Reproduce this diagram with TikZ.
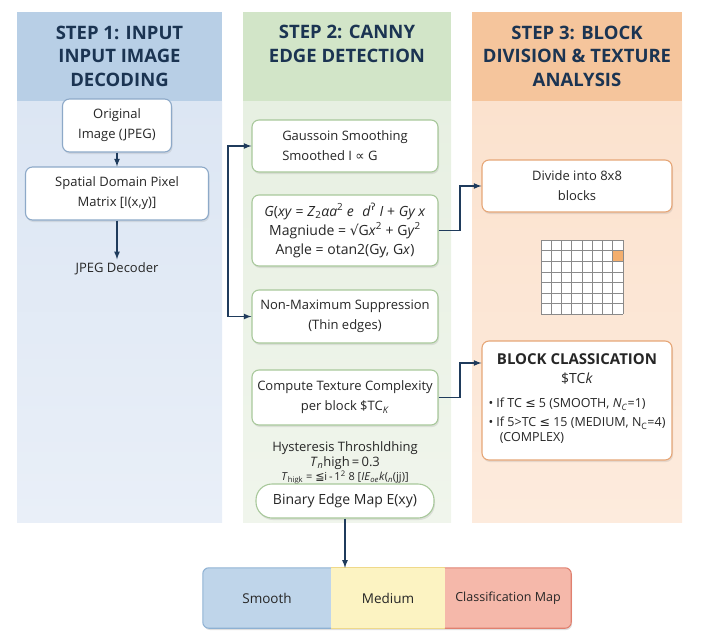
\documentclass[tikz,border=0pt]{standalone}
\usepackage{fontspec}
\setmainfont{Open Sans}
\newfontfamily\symfont{DejaVu Sans}
\newcommand{\sym}[1]{{\symfont #1}}
\usetikzlibrary{positioning, shadows}

\definecolor{head-blue}{HTML}{B8CFE6}
\definecolor{body-blue-top}{HTML}{DCE6F3}
\definecolor{body-blue-bot}{HTML}{E9EFF8}
\definecolor{head-green}{HTML}{D2E5C8}
\definecolor{body-green-top}{HTML}{E7F0E2}
\definecolor{body-green-bot}{HTML}{F0F5EC}
\definecolor{head-orange}{HTML}{F5C59C}
\definecolor{body-orange-top}{HTML}{FBE2CE}
\definecolor{body-orange-bot}{HTML}{FDEBDD}
\definecolor{line-blue}{HTML}{8DA9C8}
\definecolor{line-green}{HTML}{A8C89B}
\definecolor{line-orange}{HTML}{E6A677}
\definecolor{arrow-navy}{HTML}{1F3B5C}
\definecolor{head-text}{HTML}{1B3452}
\definecolor{box-text}{HTML}{262626}
\definecolor{smooth-fill}{HTML}{BFD5EA}
\definecolor{smooth-line}{HTML}{8EB1D3}
\definecolor{medium-fill}{HTML}{FCF3C2}
\definecolor{medium-line}{HTML}{EFD98A}
\definecolor{class-fill}{HTML}{F5B8AA}
\definecolor{class-line}{HTML}{E0806F}
\definecolor{grid-gray}{HTML}{8A8A8A}
\definecolor{cell-orange}{HTML}{F3AE6D}

\begin{document}
\begin{tikzpicture}[x=1pt, y=-1pt, font=\fontsize{13}{20}\selectfont, text=box-text]
  \tikzstyle{module}=[rounded corners=7pt, draw, fill=white, line width=1.1pt, inner sep=3pt, align=center,
    drop shadow={opacity=.18, shadow xshift=1pt, shadow yshift=-2pt}]
  \tikzstyle{blue-box}=[module, draw=line-blue]
  \tikzstyle{green-box}=[module, draw=line-green, minimum width=186pt]
  \tikzstyle{orange-box}=[module, draw=line-orange, minimum width=190pt]
  \tikzstyle{head}=[font=\fontsize{18.5}{23.5}\selectfont\bfseries, text=head-text, align=center]
  \tikzstyle{link}=[-latex, line width=1.6pt, draw=arrow-navy]
  \tikzstyle{seg}=[minimum height=60pt, inner sep=0pt]

  \useasboundingbox (0,0) rectangle (704,642);

  % column panels
  \fill[head-blue] (17,12) rectangle (222,101);
  \shade[top color=body-blue-top, bottom color=body-blue-bot] (17,101) rectangle (222,522);
  \fill[head-green] (243,12) rectangle (451,101);
  \shade[top color=body-green-top, bottom color=body-green-bot] (243,101) rectangle (451,522);
  \fill[head-orange] (472,12) rectangle (682,101);
  \shade[top color=body-orange-top, bottom color=body-orange-bot] (472,101) rectangle (682,522);

  \node [head] (H-1) at (119.5,56) {STEP 1: INPUT\\INPUT IMAGE\\DECODING};
  \node [head] (H-2) at (347,44) {STEP 2: CANNY\\EDGE DETECTION};
  \node [head] (H-3) at (577,56) {STEP 3: BLOCK\\DIVISION \& TEXTURE\\ANALYSIS};

  % step 1
  \node [blue-box, minimum width=109pt, minimum height=53pt] (O-I) at (117,125.5) {Original\\Image (JPEG)};
  \node [blue-box, minimum width=183pt, minimum height=53pt] (S-D) at (117,193.5) {Spatial Domain Pixel\\Matrix [I(x,y)]};
  \node (J-D) at (117,269) {JPEG Decoder};

  \draw [link] (O-I) -- (S-D);
  \draw [link] (S-D) -- (J-D);

  % step 2
  \node [green-box, minimum height=52pt, align=left] (G-S) at (345,146) {Gaussoin Smoothing\\Smoothed I \sym{∝} G};
  \node [green-box, minimum height=71pt, font=\fontsize{14}{19}\selectfont] (G-M) at (345,230.5)
    {\textit{G}(\textit{xy} = \textit{Z}\textsubscript{2}\textit{αa}\textsuperscript{2} \textit{e}\,\, \textit{d}\textsuperscript{\sym{ʔ}} \textit{I} + \textit{Gy x}\\
     Magniude = \sym{√}G\textit{x}\textsuperscript{2} + G\textit{y}\textsuperscript{2}\\
     Angle = otan2(Gy, G\textit{x})};
  \node [green-box, minimum height=53pt] (N-M) at (345,316.5) {Non-Maximum Suppression\\(Thin edges)};
  \node [green-box, minimum height=55pt] (C-T) at (345,397.5) {Compute Texture Complexity\\per block \$TC\textsubscript{\textit{K}}};
  \node [align=center] (H-T) at (345,463)
    {Hysteresis Throshldhing\\[-5pt]
     {\fontsize{13}{14}\selectfont \textit{T}\textsubscript{\textit{n}}high\,=\,0.3}\\[-6pt]
     {\fontsize{11}{12}\selectfont \textit{T}\textsubscript{higk} = \sym{≦}i\,-\,1\textsuperscript{2} 8 [\textit{IE}\textsubscript{\textit{oe}}\textit{k}(\textsubscript{\textit{n}}(jj)]}};
  \node [module, draw=line-green, rounded corners=16pt, minimum width=178pt, minimum height=34pt, font=\fontsize{14}{17}\selectfont] (B-E) at (345,501) {Binary Edge Map E(xy)};

  \coordinate (br) at (228,0);
  \draw [link] (br |- N-M.west) -- (br |- G-S.west) -- (G-S.west);
  \draw [link] (br |- N-M.west) -- (N-M.west);

  % step 3
  \node [orange-box, minimum height=52pt] (D-B) at (577,186) {Divide into 8x8\\blocks};

  \fill[white] (541,240) rectangle (623,314.2);
  \fill[cell-orange] (612.75,250.6) rectangle (623,261.2);
  \foreach \c in {0,...,8}
    \draw[grid-gray, line width=.6pt] (541+\c*10.25,240) -- (541+\c*10.25,314.2);
  \foreach \r in {0,...,7}
    \draw[grid-gray, line width=.6pt] (541,240+\r*10.6) -- (623,240+\r*10.6);

  \node [orange-box, minimum height=119pt] (B-CL) at (577,400.5)
    {{\fontsize{15}{18}\selectfont\bfseries BLOCK CLASSICATION}\\[-1pt]
     {\fontsize{14}{17}\selectfont \$TC\textit{k}}\\[10pt]
     {\fontsize{12.5}{18}\selectfont
     \begin{tabular}{@{}l@{}}
       • If TC \sym{≤} 5 (SMOOTH, \textit{N}\textsubscript{\textit{C}}=1)\\[1pt]
       • If 5>TC \sym{≤} 15 (MEDIUM, N\textsubscript{C}=4)\\[-3pt]
       \hspace{0.9em}(COMPLEX)
     \end{tabular}}};

  \coordinate (jn) at (460,0);
  \draw [link] (G-M.east) -- (G-M.east -| jn) -- (jn |- D-B.west) -- (D-B.west);
  \draw [link] (C-T.east) -- (C-T.east -| jn) -- (jn |- 0,363) -- (B-CL.west |- 0,363);

  % classification map
  \path[fill=white, rounded corners=6pt, drop shadow={opacity=.25, shadow xshift=1pt, shadow yshift=-2pt}] (203,568) rectangle (571,628);
  \begin{scope}
    \clip[rounded corners=6pt] (203,568) rectangle (571,628);
    \node [seg, fill=smooth-fill, minimum width=128pt, font=\fontsize{13.5}{16}\selectfont] (M-S) at (267,598) {Smooth};
    \node [seg, fill=medium-fill, minimum width=114pt, font=\fontsize{13.5}{16}\selectfont] (M-M) at (388,598) {Medium};
    \node [seg, fill=class-fill, minimum width=126pt, font=\fontsize{12.5}{15}\selectfont] (M-C) at (508,598) {Classification Map};
  \end{scope}
  \draw[smooth-line, line width=1.1pt, rounded corners=6pt] (M-S.north east) -- (M-S.north west) -- (M-S.south west) -- (M-S.south east);
  \draw[medium-line, line width=1.1pt] (M-M.north west) -- (M-M.north east) (M-M.south west) -- (M-M.south east);
  \draw[class-line, line width=1.1pt, rounded corners=6pt] (M-C.north west) -- (M-C.north east) -- (M-C.south east) -- (M-C.south west);

  \draw [link] (B-E) -- (B-E |- M-M.north);
\end{tikzpicture}
\end{document}
